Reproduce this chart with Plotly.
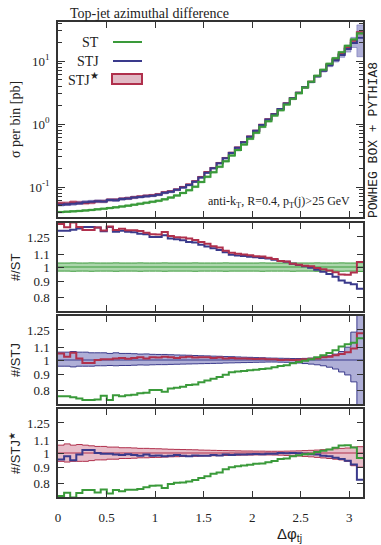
import numpy as np
import plotly.graph_objects as go

# 50 bins in delta phi from 0 to pi
edges = np.linspace(0, np.pi, 51)

# ST cross section per bin [pb]
sigma_st = [0.0400, 0.0406, 0.0411, 0.0417, 0.0425, 0.0433, 0.0442, 0.0452, 0.0463, 0.0476,
            0.0491, 0.0506, 0.0524, 0.0542, 0.0562, 0.0582, 0.0603, 0.0638, 0.0679, 0.0733,
            0.0804, 0.0891, 0.101, 0.120, 0.145, 0.172, 0.209, 0.257, 0.316, 0.385,
            0.473, 0.582, 0.724, 0.902, 1.11, 1.36, 1.66, 2.04, 2.51, 3.09,
            3.80, 4.68, 5.82, 7.24, 9.02, 11.1, 13.8, 17.4, 21.9, 27.5]

# STJ / ST
stj_over_st = [1.31, 1.31, 1.32, 1.33, 1.345, 1.345, 1.34, 1.305, 1.345, 1.30,
               1.31, 1.30, 1.295, 1.28, 1.275, 1.25, 1.25, 1.265, 1.235, 1.23,
               1.22, 1.205, 1.20, 1.18, 1.165, 1.15, 1.135, 1.115, 1.095, 1.09,
               1.085, 1.08, 1.075, 1.07, 1.065, 1.055, 1.045, 1.04, 1.025, 1.015,
               1.005, 0.995, 0.98, 0.965, 0.95, 0.93, 0.905, 0.89, 0.88, 0.85]

# STJ* / STJ
stjs_over_stj = [1.05, 1.025, 1.055, 1.012, 0.978, 0.978, 1.0, 1.005, 1.005, 1.012,
                 1.015, 1.01, 1.015, 1.02, 1.012, 1.02, 1.018, 1.025, 1.02, 1.015,
                 1.02, 1.025, 1.018, 1.02, 1.02, 1.015, 1.018, 1.012, 1.015, 1.012,
                 1.012, 1.01, 1.008, 1.01, 1.005, 1.005, 1.0, 1.002, 1.0, 1.002,
                 1.005, 1.01, 1.012, 1.02, 1.025, 1.035, 1.045, 1.06, 1.09, 1.22]

# relative uncertainty bands
err_st = [0.03, 0.03, 0.031, 0.03, 0.03, 0.031, 0.03, 0.03, 0.03, 0.031,
          0.03, 0.03, 0.03, 0.031, 0.03, 0.03, 0.03, 0.031, 0.03, 0.03,
          0.03, 0.03, 0.031, 0.03, 0.03, 0.03, 0.03, 0.031, 0.03, 0.03,
          0.03, 0.03, 0.03, 0.031, 0.03, 0.03, 0.03, 0.03, 0.031, 0.03,
          0.03, 0.03, 0.031, 0.03, 0.03, 0.03, 0.031, 0.03, 0.03, 0.032]
err_stj_hi = [0.06, 0.06, 0.065, 0.06, 0.06, 0.055, 0.055, 0.055, 0.05, 0.055,
              0.05, 0.05, 0.048, 0.045, 0.046, 0.043, 0.042, 0.042, 0.04, 0.038,
              0.037, 0.036, 0.034, 0.032, 0.031, 0.029, 0.028, 0.026, 0.025, 0.023,
              0.021, 0.02, 0.018, 0.017, 0.015, 0.014, 0.013, 0.012, 0.011, 0.011,
              0.012, 0.014, 0.018, 0.024, 0.032, 0.045, 0.065, 0.10, 0.23, 0.6]
err_stj_lo = [0.045, 0.045, 0.05, 0.045, 0.045, 0.045, 0.042, 0.042, 0.04, 0.042,
              0.04, 0.04, 0.038, 0.036, 0.037, 0.035, 0.034, 0.034, 0.032, 0.031,
              0.03, 0.029, 0.028, 0.027, 0.026, 0.025, 0.024, 0.022, 0.021, 0.02,
              0.019, 0.018, 0.017, 0.016, 0.015, 0.015, 0.016, 0.017, 0.019, 0.022,
              0.026, 0.03, 0.035, 0.042, 0.052, 0.065, 0.085, 0.105, 0.15, 0.5]
err_stjs_hi = [0.06, 0.07, 0.06, 0.065, 0.06, 0.055, 0.05, 0.05, 0.045, 0.045,
               0.04, 0.04, 0.038, 0.035, 0.035, 0.033, 0.032, 0.03, 0.028, 0.027,
               0.026, 0.025, 0.024, 0.022, 0.021, 0.02, 0.019, 0.018, 0.017, 0.016,
               0.015, 0.015, 0.014, 0.014, 0.013, 0.013, 0.013, 0.014, 0.015, 0.016,
               0.018, 0.02, 0.022, 0.025, 0.028, 0.032, 0.035, 0.038, 0.045, 0.048]
err_stjs_lo = [0.06, 0.065, 0.06, 0.06, 0.06, 0.055, 0.05, 0.05, 0.045, 0.045,
               0.04, 0.04, 0.038, 0.035, 0.035, 0.033, 0.032, 0.03, 0.028, 0.027,
               0.026, 0.025, 0.024, 0.022, 0.021, 0.02, 0.019, 0.018, 0.017, 0.016,
               0.015, 0.015, 0.014, 0.014, 0.014, 0.015, 0.016, 0.018, 0.02, 0.022,
               0.025, 0.028, 0.032, 0.036, 0.04, 0.045, 0.05, 0.06, 0.09, 0.1]

GREEN = '#3a9a3a'
BLUE = '#3a3a8c'
RED = '#b0304c'
GREEN_F = 'rgba(70,165,70,0.45)'
BLUE_F = 'rgba(95,95,175,0.5)'
RED_F = 'rgba(195,90,120,0.4)'
SERIF = 'Liberation Serif, Times New Roman, serif'
SANS = 'Liberation Sans, Arial, sans-serif'
MONO = 'Liberation Mono, Courier New, monospace'

st = np.array(sigma_st)
stj = st * np.array(stj_over_st)
stjs = stj * np.array(stjs_over_stj)
e_st = np.array(err_st)
e_stj_hi, e_stj_lo = np.array(err_stj_hi), np.array(err_stj_lo)
e_stjs_hi, e_stjs_lo = np.array(err_stjs_hi), np.array(err_stjs_lo)

X = list(edges)


def sy(v):
    v = list(v)
    return v + [v[-1]]


def line(ax, v, color, width=2):
    return go.Scatter(x=X, y=sy(v), mode='lines', xaxis='x' + ax, yaxis='y' + ax,
                      line=dict(color=color, width=width, shape='hv'),
                      showlegend=False, hoverinfo='skip')


def band(ax, lo, hi, fill, edge):
    t1 = go.Scatter(x=X, y=sy(lo), mode='lines', xaxis='x' + ax, yaxis='y' + ax,
                    line=dict(color=edge, width=1, shape='hv'),
                    showlegend=False, hoverinfo='skip')
    t2 = go.Scatter(x=X, y=sy(hi), mode='lines', xaxis='x' + ax, yaxis='y' + ax,
                    line=dict(color=edge, width=1, shape='hv'), fill='tonexty',
                    fillcolor=fill, showlegend=False, hoverinfo='skip')
    return [t1, t2]


traces = []
# top panel: cross sections
traces += band('', stjs * (1 - e_stjs_lo), stjs * (1 + e_stjs_hi), RED_F, RED_F)
traces += band('', stj * (1 - e_stj_lo), stj * (1 + e_stj_hi), BLUE_F, BLUE_F)
traces += band('', st * (1 - e_st), st * (1 + e_st), GREEN_F, GREEN_F)
traces += [line('', stjs, RED), line('', stj, BLUE), line('', st, GREEN)]

# ratio to ST
traces += band('2', (st / st) * (1 - e_st), (st / st) * (1 + e_st), GREEN_F, GREEN)
traces += [line('2', st / st, GREEN, 1.2), line('2', stj / st, BLUE), line('2', stjs / st, RED)]

# ratio to STJ
traces += band('3', (stj / stj) * (1 - e_stj_lo), (stj / stj) * (1 + e_stj_hi), BLUE_F, BLUE)
traces += [line('3', stj / stj, BLUE, 1.2), line('3', stjs / stj, RED), line('3', st / stj, GREEN)]

# ratio to STJ*
traces += band('4', (stjs / stjs) * (1 - e_stjs_lo), (stjs / stjs) * (1 + e_stjs_hi), RED_F, RED)
traces += [line('4', stjs / stjs, RED, 1.2), line('4', stj / stjs, BLUE), line('4', st / stjs, GREEN)]

fig = go.Figure(traces)

L, R, T, B = 58, 18, 22, 48
W, H = 381, 545
PW, PH = W - L - R, H - T - B


def px(x):
    return (x - L) / PW


def py(y):
    return (H - B - y) / PH


domains = {'': [py(217), 1], '2': [py(311), py(223)], '3': [py(404), py(316)], '4': [0, py(409)]}
axis_style = dict(showline=True, linecolor='#333', linewidth=1.5, mirror='ticks', ticks='inside',
                  tickcolor='#333', tickwidth=1.2, showgrid=False, zeroline=False,
                  tickfont=dict(family=SERIF, size=13, color='#222'))

lay = {}
for ax, dom in domains.items():
    lay['xaxis' + ax] = dict(axis_style, domain=[0, 1], range=[0, np.pi], anchor='y' + ax,
                             tickmode='array', tickvals=[0, 0.5, 1, 1.5, 2, 2.5, 3],
                             ticktext=['0', '0.5', '1', '1.5', '2', '2.5', '3'],
                             ticklen=6, showticklabels=(ax == '4'), ticklabelstandoff=8)
    if ax == '':
        minor = [m * 10.0 ** d for d in (-2, -1, 0, 1) for m in range(2, 10)]
        lay['yaxis'] = dict(axis_style, domain=dom, type='log', range=[-1.476, 1.619], anchor='x',
                            tickmode='array', tickvals=[0.1, 1, 10],
                            ticktext=['10<sup>-1</sup>', '10<sup>0</sup>', '10<sup>1</sup>'],
                            ticklen=7, ticklabelstandoff=4,
                            minor=dict(tickmode='array', tickvals=minor, ticks='inside',
                                       ticklen=4, tickcolor='#333'))
    else:
        lay['yaxis' + ax] = dict(axis_style, domain=dom, type='log', range=[-0.142, 0.142],
                                 anchor='x' + ax, tickmode='array',
                                 tickvals=[0.8, 0.9, 1, 1.1, 1.25],
                                 ticktext=['0.8', '0.9', '1', '1.1', '1.25'],
                                 ticklen=6, ticklabelstandoff=4)

ann = []


def text(x, y, s, size=13, family=SERIF, xanchor='center', angle=0):
    ann.append(dict(x=px(x), y=py(y), xref='paper', yref='paper', text=s, showarrow=False,
                    xanchor=xanchor, yanchor='middle', textangle=angle,
                    font=dict(family=family, size=size, color='#222')))


text(68, 13, 'Top-jet azimuthal difference', 14, xanchor='left')
text(15, 120, 'σ per bin [pb]', 14, angle=-90)
text(15, 267, '#/ST', 13, SANS, angle=-90)
text(15, 360, '#/STJ', 13, SANS, angle=-90)
text(15, 453, '#/STJ<sup>★</sup>', 13, SANS, angle=-90)
text(289, 534, 'Δφ<sub>tj</sub>', 15, SANS)
text(373, 140, 'POWHEG BOX + PYTHIA8', 13, MONO, angle=-90)
text(352, 202, 'anti-k<sub>T</sub>, R=0.4, p<sub>T</sub>(j)&gt;25 GeV', 12, xanchor='right')
text(101, 42, 'ST', 14, xanchor='right')
text(101, 61, 'STJ', 14, xanchor='right')
text(101, 79, 'STJ<sup>★</sup>', 14, xanchor='right')

shapes = [
    dict(type='line', xref='paper', yref='paper', x0=px(113), x1=px(142), y0=py(42), y1=py(42),
         line=dict(color=GREEN, width=2)),
    dict(type='line', xref='paper', yref='paper', x0=px(113), x1=px(142), y0=py(61), y1=py(61),
         line=dict(color=BLUE, width=2)),
    dict(type='rect', xref='paper', yref='paper', x0=px(112), x1=px(142), y0=py(84), y1=py(74),
         fillcolor='rgba(200,130,150,0.55)', line=dict(color=RED, width=2)),
]

fig.update_layout(**lay)
fig.update_layout(width=W, height=H, autosize=False, margin=dict(l=L, r=R, t=T, b=B),
                  plot_bgcolor='white', paper_bgcolor='white', annotations=ann, shapes=shapes)
fig.write_html("out.html", config={'displayModeBar': False},
               post_script="document.body.style.margin='0px';")
